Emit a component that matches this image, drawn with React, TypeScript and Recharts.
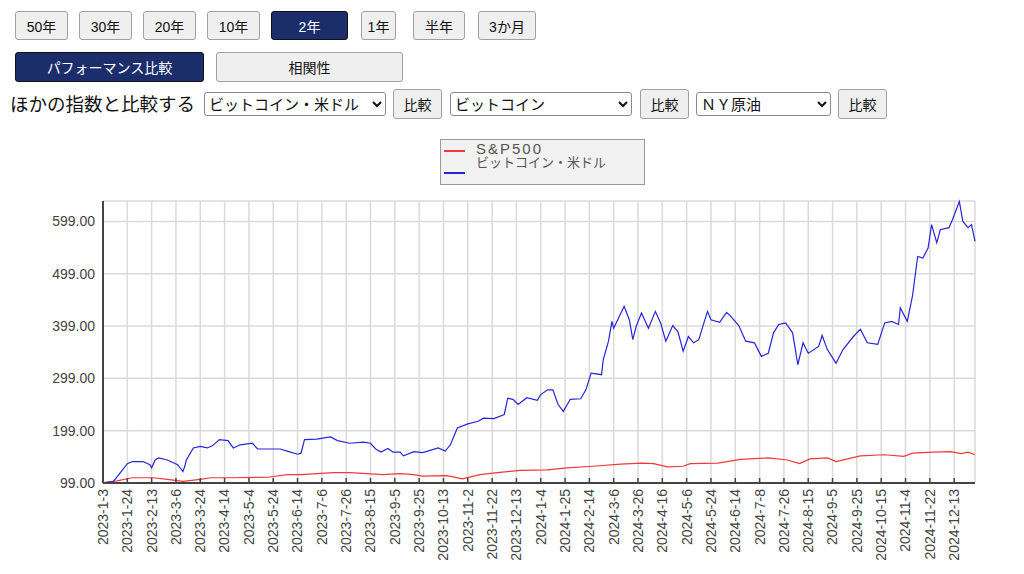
import { LineChart, Line, XAxis, YAxis, CartesianGrid, Legend } from 'recharts';

// tick labels on the x axis, one every 14 trading days
const X_LABELS = [
  '2023-1-3', '2023-1-24', '2023-2-13', '2023-3-6', '2023-3-24', '2023-4-14',
  '2023-5-4', '2023-5-24', '2023-6-14', '2023-7-6', '2023-7-26', '2023-8-15',
  '2023-9-5', '2023-9-25', '2023-10-13', '2023-11-2', '2023-11-22', '2023-12-13',
  '2024-1-4', '2024-1-25', '2024-2-14', '2024-3-6', '2024-3-26', '2024-4-16',
  '2024-5-6', '2024-5-24', '2024-6-14', '2024-7-8', '2024-7-26', '2024-8-15',
  '2024-9-5', '2024-9-25', '2024-10-15', '2024-11-4', '2024-11-22', '2024-12-13',
];
const X_STEP = 14;
const LAST_DAY = 502;

const Y_TICKS = [99, 199, 299, 399, 499, 599];
const Y_MAX = 638;

const SERIES_NAMES = ['S&P500', 'ビットコイン・米ドル'];

// [trading day, indexed value]
const SP500: [number, number][] = [
  [0, 100], [8, 103], [17, 109], [29, 109], [37, 106], [46, 102], [56, 106], [62, 109],
  [75, 109], [95, 110], [106, 115], [114, 115], [123, 117], [133, 119], [142, 119],
  [152, 117], [161, 115], [171, 117], [179, 115], [184, 112], [198, 113], [207, 107],
  [217, 115], [227, 119], [240, 123], [256, 124], [267, 128], [282, 131], [298, 135],
  [310, 137], [317, 136], [325, 130], [334, 131], [338, 136], [354, 137], [367, 144],
  [383, 147], [394, 143], [401, 136], [407, 145], [417, 147], [422, 140], [436, 151],
  [450, 153], [461, 150], [466, 156], [478, 158], [488, 159], [494, 155], [498, 158],
  [502, 153],
];

const BTC: [number, number][] = [
  [0, 99], [6, 102], [10, 119], [14, 136], [17, 140], [23, 140], [27, 134], [28, 128],
  [30, 143], [32, 147], [37, 143], [43, 134], [46, 121], [47, 130], [48, 143], [52, 166],
  [56, 169], [60, 166], [63, 170], [67, 182], [72, 180], [75, 166], [79, 172], [86, 175],
  [89, 164], [95, 164], [102, 164], [106, 160], [112, 154], [114, 156], [116, 182],
  [123, 183], [131, 187], [135, 180], [142, 175], [150, 177], [154, 175], [157, 164],
  [160, 158], [164, 165], [167, 158], [171, 158], [173, 151], [179, 159], [184, 157],
  [193, 166], [197, 160], [200, 172], [204, 204], [210, 212], [216, 217], [219, 223],
  [225, 222], [231, 230], [233, 261], [236, 259], [239, 249], [244, 262], [250, 257],
  [252, 268], [256, 277], [259, 277], [262, 249], [265, 236], [269, 259], [275, 260],
  [278, 277], [281, 309], [287, 306], [288, 335], [291, 370], [293, 408], [294, 395],
  [300, 437], [303, 411], [305, 373], [307, 399], [310, 424], [314, 395], [318, 427],
  [321, 405], [324, 370], [328, 400], [331, 388], [334, 351], [337, 379], [340, 367],
  [343, 373], [345, 395], [348, 427], [350, 411], [355, 406], [359, 425], [361, 419],
  [366, 400], [370, 370], [375, 367], [379, 341], [383, 347], [386, 386], [389, 402],
  [393, 405], [397, 386], [400, 325], [403, 367], [406, 347], [412, 360], [414, 381],
  [417, 354], [422, 328], [426, 354], [432, 379], [436, 393], [440, 367], [446, 364],
  [450, 405], [454, 408], [458, 402], [459, 434], [463, 408], [466, 456], [469, 532],
  [472, 529], [475, 548], [477, 593], [480, 558], [482, 583], [487, 587], [489, 602],
  [493, 637], [495, 599], [498, 587], [500, 593], [502, 561],
];

const PERIODS = ['50年', '30年', '20年', '10年', '2年', '1年', '半年', '3か月'];
const MODES = ['パフォーマンス比較', '相関性'];
const COMPARE = ['ビットコイン・米ドル', 'ビットコイン', 'ＮＹ原油'];

const FONT = "'Liberation Sans', 'Noto Sans CJK JP', sans-serif";
const NAVY = '#1b2d6b';

const spData = SP500.map(([day, v]) => ({ day, v }));
const btcData = BTC.map(([day, v]) => ({ day, v }));
const xTicks = X_LABELS.map((_, i) => i * X_STEP);

function XTick({ x, y, payload }: any) {
  const label = X_LABELS[Math.round(payload.value / X_STEP)];
  return (
    <g transform={`translate(${x},${y})`}>
      <line x1={0} y1={0} x2={0} y2={-5} stroke="#444" strokeWidth={1.5} />
      <text
        transform="translate(0,6) rotate(-90)"
        textAnchor="end"
        dy="0.35em"
        fill="#444"
        fontSize={14}
        fontFamily={FONT}
      >
        {label}
      </text>
    </g>
  );
}

function ChartLegend({ payload }: any) {
  const items = payload || [];
  return (
    <div
      style={{
        width: 205,
        height: 46,
        boxSizing: 'border-box',
        border: '1.5px solid #9a9a9a',
        background: '#f2f2f2',
        position: 'relative',
        fontFamily: FONT,
      }}
    >
      {items.map((item: any, i: number) => (
        <div key={item.value}>
          <div
            style={{
              position: 'absolute',
              left: 3,
              top: i === 0 ? 10 : 32,
              width: 21,
              height: 2,
              background: item.color,
            }}
          />
          <div
            style={{
              position: 'absolute',
              left: 35,
              top: i === 0 ? 1 : 15,
              fontSize: i === 0 ? 15 : 13,
              letterSpacing: i === 0 ? 2 : 0,
              color: '#555',
              whiteSpace: 'nowrap',
              lineHeight: i === 0 ? '16px' : '15px',
            }}
          >
            {item.value}
          </div>
        </div>
      ))}
    </div>
  );
}

function Btn({ label, left, top, width, height, active }: any) {
  return (
    <button
      style={{
        position: 'absolute',
        left,
        top,
        width,
        height,
        boxSizing: 'border-box',
        padding: 0,
        background: active ? NAVY : '#efefef',
        color: active ? '#fff' : '#111',
        border: active ? '1px solid #111' : '1px solid #a0a0a0',
        borderRadius: 3,
        fontSize: 14,
        fontFamily: FONT,
      }}
    >
      {label}
    </button>
  );
}

function Select({ label, left, width }: any) {
  return (
    <select
      defaultValue={label}
      style={{
        position: 'absolute',
        left,
        top: 92,
        width,
        height: 24,
        boxSizing: 'border-box',
        background: '#fff',
        border: '1px solid #8a8a8a',
        borderRadius: 3,
        fontSize: 15,
        fontFamily: FONT,
        color: '#111',
      }}
    >
      <option>{label}</option>
    </select>
  );
}

const PERIOD_POS = [
  [15, 53], [79, 53], [143, 53], [207, 53], [271, 77], [361, 35], [413, 52], [478, 58],
];

export default function App() {
  return (
    <div style={{ position: 'absolute', left: 0, top: 0, width: 1024, height: 574, background: '#fff', fontFamily: FONT }}>
      {PERIODS.map((p, i) => (
        <Btn key={p} label={p} left={PERIOD_POS[i][0]} top={11} width={PERIOD_POS[i][1]} height={29} active={p === '2年'} />
      ))}
      <Btn label={MODES[0]} left={15} top={52} width={189} height={30} active />
      <Btn label={MODES[1]} left={216} top={52} width={187} height={30} />

      <div style={{ position: 'absolute', left: 10, top: 90, fontSize: 18.5, color: '#111', whiteSpace: 'nowrap' }}>
        ほかの指数と比較する
      </div>
      <Select label={COMPARE[0]} left={204} width={182} />
      <Btn label="比較" left={393} top={89} width={49} height={30} />
      <Select label={COMPARE[1]} left={450} width={182} />
      <Btn label="比較" left={640} top={89} width={49} height={30} />
      <Select label={COMPARE[2]} left={696} width={135} />
      <Btn label="比較" left={838} top={89} width={49} height={30} />

      <div style={{ position: 'absolute', left: 0, top: 130 }}>
        <LineChart width={1000} height={444} margin={{ top: 71, right: 25, left: 0, bottom: 0 }}>
          <CartesianGrid stroke="#dadada" strokeWidth={1.5} />
          <XAxis
            type="number"
            dataKey="day"
            domain={[0, LAST_DAY]}
            ticks={xTicks}
            interval={0}
            tick={<XTick />}
            tickLine={false}
            tickSize={0}
            tickMargin={0}
            height={91}
            axisLine={{ stroke: '#444', strokeWidth: 2 }}
          />
          <YAxis
            type="number"
            domain={[99, Y_MAX]}
            ticks={Y_TICKS}
            interval={0}
            tickFormatter={(v: number) => v.toFixed(2)}
            width={103}
            tickSize={0}
            tickMargin={8}
            tickLine={false}
            tick={{ fill: '#444', fontSize: 14, fontFamily: FONT }}
            axisLine={{ stroke: '#444', strokeWidth: 2 }}
          />
          <Legend
            layout="horizontal"
            verticalAlign="middle"
            content={<ChartLegend />}
            wrapperStyle={{ position: 'absolute', left: 440, top: 9, width: 205, height: 46 }}
          />
          <Line
            data={spData}
            dataKey="v"
            name={SERIES_NAMES[0]}
            stroke="#ee3a3a"
            strokeWidth={1.2}
            dot={false}
            isAnimationActive={false}
          />
          <Line
            data={btcData}
            dataKey="v"
            name={SERIES_NAMES[1]}
            stroke="#2626d9"
            strokeWidth={1.2}
            dot={false}
            isAnimationActive={false}
          />
        </LineChart>
      </div>
    </div>
  );
}
